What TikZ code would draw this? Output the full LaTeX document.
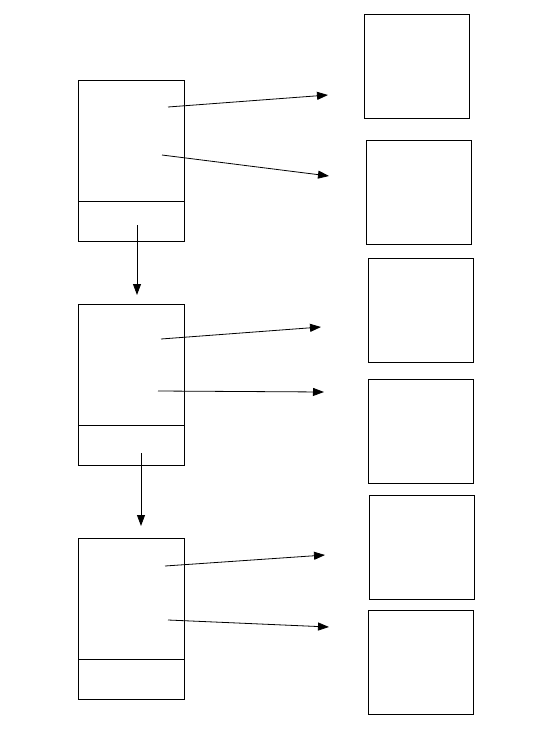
\documentclass[tikz,border=0pt]{standalone}
\usetikzlibrary{arrows.meta}
\begin{document}
\begin{tikzpicture}[x=1pt,y=-1pt,
  box/.style={draw, line width=1pt, inner sep=0pt, outer sep=0pt, anchor=north west},
  stackbox/.style={box, minimum width=106pt, minimum height=161pt},
  outbox/.style={box, minimum width=105pt, minimum height=104pt},
  link/.style={line width=0.8pt, -{Triangle[length=11pt,width=8pt]}}]
\useasboundingbox (0,0) rectangle (542,753);

% stacked boxes on the left, each split near the bottom
\node[stackbox] (s1) at (78,80) {};
\node[stackbox] (s2) at (78,304) {};
\node[stackbox] (s3) at (78,538) {};
\foreach \s/\y in {s1/201, s2/425, s3/659}
  \draw[line width=1pt] (\s.west |- 0,\y) -- (\s.east |- 0,\y);

% boxes on the right
\node[outbox] (r1) at (364,14) {};
\node[outbox] (r2) at (366,140) {};
\node[outbox] (r3) at (368,258) {};
\node[outbox] (r4) at (368,379) {};
\node[outbox] (r5) at (369,495) {};
\node[outbox] (r6) at (368,610) {};

% arrow end points
\coordinate (a1s) at (168,107); \coordinate (a1e) at (328,95);
\coordinate (a2s) at (162,155); \coordinate (a2e) at (329,176);
\coordinate (a3s) at (161,339); \coordinate (a3e) at (321,327);
\coordinate (a4s) at (158,391); \coordinate (a4e) at (324,392);
\coordinate (a5s) at (165,566); \coordinate (a5e) at (325,555);
\coordinate (a6s) at (168,620); \coordinate (a6e) at (329,627);
\coordinate (d1s) at (137,225); \coordinate (d1e) at (137,295);
\coordinate (d2s) at (141,453); \coordinate (d2e) at (141,526);

\foreach \a in {a1,a2,a3,a4,a5,a6,d1,d2}
  \draw[link] (\a s) -- (\a e);
\end{tikzpicture}
\end{document}
